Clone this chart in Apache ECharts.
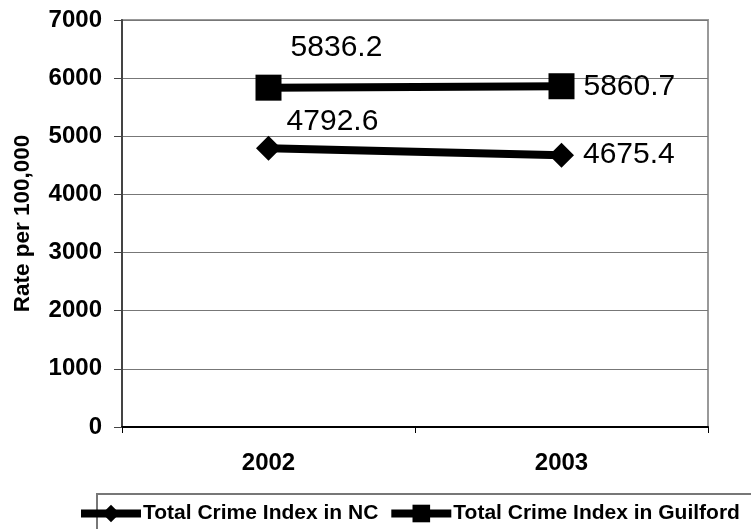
<!DOCTYPE html>
<html>
<head>
<meta charset="utf-8">
<script src="https://cdn.jsdelivr.net/npm/echarts@6/dist/echarts.min.js"></script>
<style>
html,body{margin:0;padding:0;background:#fff;}
#chart{width:751px;height:529px;}
</style>
</head>
<body>
<div id="chart"></div>
<script>
var categories = ['2002', '2003'];
var ncValues = [4792.6, 4675.4];
var guilfordValues = [5836.2, 5860.7];
var seriesNames = ['Total Crime Index in NC', 'Total Crime Index in Guilford'];
var yTicks = [0, 1000, 2000, 3000, 4000, 5000, 6000, 7000];
var yAxisTitle = 'Rate per 100,000';

var FONT = '"Liberation Sans", Arial, sans-serif';
var chart = echarts.init(document.getElementById('chart'), null, {renderer: 'canvas'});

function labelled(values, firstOffset) {
  return values.map(function (v, i) {
    if (i === 0) {
      return {value: v, label: {position: 'inside', offset: firstOffset}};
    }
    return {value: v, label: {position: 'right', distance: 9}};
  });
}

var labelStyle = {
  show: true,
  color: '#000',
  fontFamily: FONT,
  fontSize: 30,
  formatter: function (p) { return p.value.toFixed(1); }
};

chart.setOption({
  animation: false,
  backgroundColor: '#fff',
  textStyle: {fontFamily: FONT, color: '#000'},
  grid: {left: 122, top: 20, right: 43, bottom: 102, show: true, borderColor: '#999', borderWidth: 2, backgroundColor: 'transparent'},
  graphic: [{
    type: 'rect', shape: {x: 97, y: 494, width: 700, height: 60},
    style: {fill: 'none', stroke: '#777', lineWidth: 2}, silent: true, z: 0
  }],
  legend: {
    left: 72, top: 498, width: 720,
    itemWidth: 60, itemHeight: 22, itemGap: 9,
    lineStyle: {width: 8},
    textStyle: {fontFamily: FONT, fontSize: 21, fontWeight: 'bold', color: '#000', padding: [0, 0, 0, -3]},
    data: seriesNames
  },
  xAxis: {
    type: 'category',
    data: categories,
    axisLine: {lineStyle: {color: '#000', width: 2}},
    axisTick: {show: true, length: 6, lineStyle: {color: '#000', width: 1}},
    axisLabel: {fontFamily: FONT, fontSize: 24, fontWeight: 'bold', color: '#000', margin: 24},
    splitLine: {show: false}
  },
  yAxis: {
    type: 'value',
    min: yTicks[0], max: yTicks[yTicks.length - 1], interval: 1000,
    name: yAxisTitle,
    nameLocation: 'middle',
    nameGap: 88,
    nameRotate: 90,
    nameTextStyle: {fontFamily: FONT, fontSize: 22.5, fontWeight: 'bold', color: '#000'},
    axisLine: {show: true, lineStyle: {color: '#444', width: 2}},
    axisTick: {show: true, length: 8, lineStyle: {color: '#444', width: 1}},
    axisLabel: {fontFamily: FONT, fontSize: 24, fontWeight: 'bold', color: '#000', margin: 20,
      formatter: function (v) { return String(v); }},
    splitLine: {show: true, lineStyle: {color: '#777', width: 1}}
  },
  series: [
    {
      name: seriesNames[0],
      type: 'line',
      data: labelled(ncValues, [64, -27]),
      symbol: 'diamond',
      symbolSize: 25,
      lineStyle: {color: '#000', width: 8},
      itemStyle: {color: '#000'},
      label: labelStyle,
      z: 3
    },
    {
      name: seriesNames[1],
      type: 'line',
      data: labelled(guilfordValues, [68, -40]),
      symbol: 'rect',
      symbolSize: 26,
      lineStyle: {color: '#000', width: 8},
      itemStyle: {color: '#000'},
      label: labelStyle,
      z: 3
    }
  ]
});
</script>
</body>
</html>
